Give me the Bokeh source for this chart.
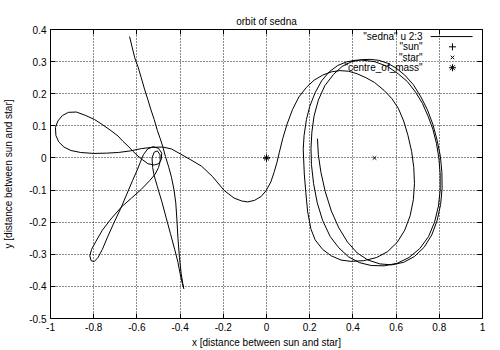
from bokeh.plotting import figure
from bokeh.models import Range1d, FixedTicker, LinearAxis
from bokeh.core.properties import value
from bokeh.embed import file_html
from bokeh.resources import INLINE

title_text = "orbit of sedna"
x_label = "x [distance between sun and star]"
y_label = "y [distance between sun and star]"

x_ticks = [-1, -0.8, -0.6, -0.4, -0.2, 0, 0.2, 0.4, 0.6, 0.8, 1]
x_tick_labels = ["-1", "-0.8", "-0.6", "-0.4", "-0.2", "0", "0.2", "0.4", "0.6", "0.8", "1"]
y_ticks = [-0.5, -0.4, -0.3, -0.2, -0.1, 0, 0.1, 0.2, 0.3, 0.4]
y_tick_labels = ["-0.5", "-0.4", "-0.3", "-0.2", "-0.1", "0", "0.1", "0.2", "0.3", "0.4"]

legend_labels = ['"sedna" u 2:3', '"sun"', '"star"', '"centre_of_mass"']

# trajectory, in order
sedna_top = [(-0.634, 0.378), (-0.622, 0.345), (-0.61, 0.312), (-0.595, 0.284), (-0.58, 0.25),
             (-0.565, 0.215), (-0.549, 0.181), (-0.535, 0.15), (-0.52, 0.12), (-0.505, 0.085),
             (-0.492, 0.06), (-0.48, 0.035)]
sedna_down = [(-0.468, 0.005), (-0.452, -0.03), (-0.44, -0.06), (-0.428, -0.1), (-0.42, -0.14),
              (-0.415, -0.19), (-0.41, -0.25), (-0.403, -0.31), (-0.395, -0.36), (-0.388, -0.39),
              (-0.383, -0.407)]
sedna_up = [(-0.39, -0.39), (-0.40, -0.36), (-0.41, -0.325), (-0.425, -0.285), (-0.445, -0.235),
            (-0.465, -0.185), (-0.485, -0.135), (-0.505, -0.09), (-0.52, -0.055), (-0.527, -0.03),
            (-0.53, 0.0), (-0.52, 0.018), (-0.505, 0.022), (-0.493, 0.01), (-0.492, -0.01),
            (-0.5, -0.03), (-0.515, -0.05)]
sedna_lobe_low = [(-0.54, -0.07), (-0.58, -0.098), (-0.625, -0.125), (-0.672, -0.153),
                  (-0.72, -0.19), (-0.76, -0.225), (-0.79, -0.26), (-0.81, -0.285),
                  (-0.818, -0.305), (-0.812, -0.32), (-0.798, -0.323), (-0.78, -0.31),
                  (-0.76, -0.285), (-0.735, -0.245), (-0.705, -0.2), (-0.672, -0.153),
                  (-0.645, -0.11), (-0.62, -0.07), (-0.6, -0.04), (-0.585, -0.015)]
sedna_lobe_high = [(-0.57, 0.01), (-0.55, 0.028), (-0.525, 0.035), (-0.50, 0.03), (-0.485, 0.015),
                   (-0.487, -0.005), (-0.5, -0.018), (-0.52, -0.022), (-0.549, -0.018),
                   (-0.575, -0.005), (-0.595, 0.006), (-0.62, 0.022), (-0.641, 0.037),
                   (-0.665, 0.052), (-0.687, 0.068), (-0.72, 0.085), (-0.76, 0.104),
                   (-0.797, 0.12), (-0.84, 0.133), (-0.88, 0.143), (-0.917, 0.142),
                   (-0.945, 0.132), (-0.966, 0.115), (-0.977, 0.095), (-0.975, 0.07),
                   (-0.962, 0.05), (-0.938, 0.034), (-0.905, 0.023), (-0.86, 0.017),
                   (-0.80, 0.014), (-0.74, 0.015), (-0.686, 0.017), (-0.63, 0.022),
                   (-0.58, 0.029), (-0.53, 0.033), (-0.48, 0.034)]
sedna_exit = [(-0.44, 0.028), (-0.40, 0.013), (-0.35, -0.006), (-0.30, -0.026), (-0.25, -0.058),
              (-0.195, -0.102), (-0.15, -0.125), (-0.115, -0.134), (-0.087, -0.137),
              (-0.055, -0.132), (-0.025, -0.12), (-0.002, -0.102), (0.02, -0.075),
              (0.035, -0.045), (0.048, -0.015), (0.059, 0.016)]
sedna_loop1 = [(0.075, 0.06), (0.095, 0.105), (0.12, 0.15), (0.15, 0.19), (0.185, 0.22),
               (0.22, 0.242), (0.26, 0.258), (0.30, 0.268), (0.34, 0.272), (0.38, 0.27),
               (0.42, 0.262), (0.46, 0.25), (0.50, 0.235), (0.545, 0.21), (0.58, 0.185),
               (0.61, 0.155), (0.635, 0.115), (0.655, 0.07), (0.672, 0.02), (0.682, -0.03),
               (0.685, -0.08), (0.68, -0.13), (0.665, -0.18), (0.64, -0.225), (0.605, -0.263),
               (0.56, -0.292), (0.51, -0.31), (0.45, -0.32), (0.39, -0.322), (0.345, -0.318),
               (0.30, -0.305), (0.26, -0.285), (0.225, -0.255), (0.205, -0.22), (0.19, -0.165),
               (0.182, -0.107), (0.175, -0.05), (0.17, 0.027), (0.174, 0.07), (0.185, 0.12),
               (0.20, 0.16), (0.225, 0.203), (0.255, 0.24), (0.29, 0.268), (0.33, 0.288),
               (0.37, 0.299), (0.41, 0.304), (0.437, 0.305)]
sedna_loop2 = [(0.50, 0.30), (0.56, 0.285), (0.61, 0.262), (0.652, 0.238), (0.69, 0.205),
               (0.722, 0.17), (0.748, 0.13), (0.77, 0.09), (0.787, 0.045), (0.798, 0.0),
               (0.804, -0.05), (0.804, -0.1), (0.796, -0.15), (0.778, -0.2), (0.75, -0.245),
               (0.71, -0.282), (0.66, -0.31), (0.605, -0.328), (0.545, -0.336), (0.485, -0.335),
               (0.43, -0.326), (0.38, -0.308), (0.335, -0.28), (0.295, -0.245), (0.26, -0.195),
               (0.235, -0.14), (0.218, -0.08), (0.208, -0.02), (0.206, 0.03), (0.21, 0.08),
               (0.22, 0.13), (0.24, 0.18), (0.27, 0.225), (0.31, 0.26), (0.35, 0.285),
               (0.395, 0.3), (0.44, 0.306), (0.48, 0.307)]
sedna_loop3 = [(0.52, 0.304), (0.56, 0.295), (0.60, 0.28), (0.64, 0.258), (0.68, 0.228),
               (0.715, 0.19), (0.745, 0.15), (0.77, 0.105), (0.79, 0.055), (0.805, 0.005),
               (0.812, -0.045), (0.813, -0.095), (0.806, -0.145), (0.79, -0.195), (0.765, -0.24),
               (0.73, -0.278), (0.685, -0.307), (0.635, -0.325), (0.58, -0.333), (0.525, -0.33),
               (0.47, -0.318), (0.42, -0.296), (0.375, -0.262), (0.335, -0.218), (0.3, -0.165),
               (0.272, -0.105), (0.252, -0.045), (0.24, 0.01), (0.236, 0.06)]

sun_x = [0.0]
sun_y = [0.0]
star_x = [0.5]
star_y = [0.0]
cm_x = [0.0]
cm_y = [0.0]

path = sedna_top + sedna_down + sedna_up + sedna_lobe_low + sedna_lobe_high + sedna_exit + \
    sedna_loop1 + sedna_loop2 + sedna_loop3
sedna_x = [pt[0] for pt in path]
sedna_y = [pt[1] for pt in path]

FONT = "Liberation Sans"

p = figure(width=500, height=350, output_backend="svg", toolbar_location=None,
           x_range=Range1d(-1, 1), y_range=Range1d(-0.5, 0.4),
           min_border_left=49, min_border_right=18, min_border_top=29, min_border_bottom=29)
p.background_fill_color = "white"
p.border_fill_color = "white"
p.outline_line_color = "black"
p.outline_line_width = 1

p.title.text = title_text
p.title.align = "center"
p.title.text_font = FONT
p.title.text_font_size = "10px"
p.title.text_font_style = "normal"
p.title.text_color = "black"
p.title.standoff = 6

xt = FixedTicker(ticks=x_ticks)
yt = FixedTicker(ticks=y_ticks)

for ax, ticks, labels, tk in ((p.xaxis[0], x_ticks, x_tick_labels, xt), (p.yaxis[0], y_ticks, y_tick_labels, yt)):
    ax.ticker = tk
    ax.major_label_overrides = {t: l for t, l in zip(ticks, labels)}
    ax.major_label_text_font = FONT
    ax.major_label_text_font_size = "10px"
    ax.major_label_text_color = "black"
    ax.major_tick_in = 5
    ax.major_tick_out = 0
    ax.minor_tick_line_color = None
    ax.axis_line_color = None
    ax.major_tick_line_color = "black"
    ax.axis_label_text_font = FONT
    ax.axis_label_text_font_size = "10px"
    ax.axis_label_text_font_style = "normal"
    ax.axis_label_text_color = "black"
    ax.major_label_standoff = 4

p.xaxis[0].axis_label = x_label
p.xaxis[0].axis_label_standoff = 3
p.yaxis[0].axis_label = y_label
p.yaxis[0].axis_label_standoff = 12

for place, tk in (("right", yt), ("above", xt)):
    ax = LinearAxis(ticker=tk, major_label_text_font_size="0px", major_tick_in=5, major_tick_out=0,
                    minor_tick_line_color=None, axis_line_color=None, major_label_standoff=0,
                    major_tick_line_color="black")
    p.add_layout(ax, place)

p.xgrid.ticker = xt
p.ygrid.ticker = yt
for g in (p.xgrid[0], p.ygrid[0]):
    g.grid_line_color = "black"
    g.grid_line_dash = "1 2"
    g.grid_line_width = 1
    g.grid_line_alpha = 0.9

p.line(sedna_x, sedna_y, line_color="black", line_width=1)
p.scatter(sun_x, sun_y, marker="cross", size=7, line_color="black", line_width=1)
p.scatter(star_x, star_y, marker="x", size=5, line_color="black", line_width=1)
p.scatter(cm_x, cm_y, marker="asterisk", size=7, line_color="black", line_width=1)

# legend (layout positions in data coordinates)
leg_text_x = 0.723
leg_rows_y = [0.378, 0.346, 0.313, 0.281]
p.text(x=[leg_text_x] * 4, y=leg_rows_y, text=legend_labels, text_align="right",
       text_baseline="middle", text_font=value(FONT), text_font_size="10px", text_color="black")
p.segment(x0=[0.76], y0=[leg_rows_y[0]], x1=[0.954], y1=[leg_rows_y[0]], line_color="black", line_width=1)
p.scatter([0.861], [leg_rows_y[1]], marker="cross", size=7, line_color="black")
p.scatter([0.861], [leg_rows_y[2]], marker="x", size=5, line_color="black")
p.scatter([0.861], [leg_rows_y[3]], marker="asterisk", size=7, line_color="black")

open("out.html", "w").write(file_html(p, INLINE))
